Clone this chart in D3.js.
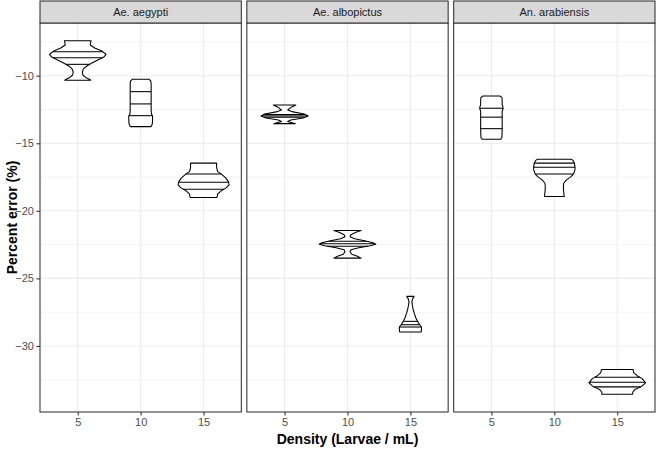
<!DOCTYPE html>
<html>
<head>
<meta charset="utf-8">
<script src="https://cdn.jsdelivr.net/npm/d3@7"></script>
<style>
  body { margin: 0; background: #fff; }
  svg { display: block; font-family: "Liberation Sans", Arial, sans-serif; }
</style>
</head>
<body>
<div id="chart"></div>
<script>
const WIDTH = 657;
const HEIGHT = 449;
const PANEL_LEFT = 40;
const PANEL_RIGHT = 655;
const PANEL_GAP = 5.5;
const STRIP_TOP = 1;
const PANEL_TOP = 23;
const PANEL_BOTTOM = 412;

const SPECIES = ["Ae. aegypti", "Ae. albopictus", "An. arabiensis"];
const DENSITIES = ["5", "10", "15"];
const Y_TICKS = [-10, -15, -20, -25, -30];
const Y_MINOR = [-7.5, -12.5, -17.5, -22.5, -27.5, -32.5];

// violin outlines: [percent error, relative width 0..1]
const aegypti5 = [[-7.41, 0.47], [-7.73, 0.44], [-7.95, 0.60], [-8.17, 0.85], [-8.43, 1.0], [-8.62, 0.92], [-8.84, 0.71], [-9.06, 0.50], [-9.28, 0.32], [-9.50, 0.20], [-9.73, 0.16], [-9.95, 0.18], [-10.13, 0.28], [-10.28, 0.43], [-10.34, 0.46]];
const aegypti10 = [[-10.27, 0.30], [-10.40, 0.36], [-10.62, 0.37], [-11.06, 0.37], [-11.80, 0.37], [-12.54, 0.37], [-12.84, 0.38], [-12.98, 0.42], [-13.28, 0.42], [-13.58, 0.41], [-13.72, 0.38], [-13.77, 0.36]];
const aegypti15 = [[-16.47, 0.46], [-16.82, 0.46], [-17.10, 0.50], [-17.27, 0.62], [-17.56, 0.78], [-17.86, 0.88], [-18.08, 0.90], [-18.30, 0.80], [-18.52, 0.62], [-18.74, 0.50], [-19.02, 0.47]];
const albopictus5 = [[-12.17, 0.40], [-12.31, 0.25], [-12.54, 0.11], [-12.68, 0.30], [-12.83, 0.70], [-12.98, 0.83], [-13.13, 0.65], [-13.28, 0.22], [-13.39, 0.11], [-13.50, 0.30], [-13.55, 0.38]];
const albopictus10 = [[-21.46, 0.48], [-21.59, 0.30], [-21.77, 0.12], [-21.92, 0.09], [-22.07, 0.25], [-22.22, 0.60], [-22.37, 0.90], [-22.48, 1.0], [-22.59, 0.80], [-22.74, 0.40], [-22.88, 0.12], [-23.03, 0.09], [-23.21, 0.15], [-23.36, 0.35], [-23.50, 0.48]];
const albopictus15 = [[-26.33, 0.13], [-26.50, 0.08], [-26.73, 0.05], [-27.02, 0.07], [-27.32, 0.10], [-27.61, 0.14], [-27.91, 0.19], [-28.18, 0.25], [-28.43, 0.33], [-28.60, 0.39], [-28.80, 0.39], [-28.97, 0.38]];
const arabiensis5 = [[-11.50, 0.30], [-11.61, 0.37], [-11.80, 0.38], [-12.17, 0.38], [-12.31, 0.41], [-12.46, 0.41], [-12.61, 0.38], [-13.27, 0.38], [-14.01, 0.38], [-14.57, 0.37], [-14.70, 0.33]];
const arabiensis10 = [[-16.18, 0.59], [-16.27, 0.66], [-16.47, 0.71], [-16.77, 0.73], [-16.97, 0.73], [-17.27, 0.68], [-17.49, 0.58], [-17.71, 0.43], [-17.96, 0.33], [-18.23, 0.32], [-18.60, 0.33], [-18.94, 0.35]];
const arabiensis15 = [[-31.75, 0.56], [-31.97, 0.58], [-32.20, 0.70], [-32.42, 0.88], [-32.73, 1.0], [-33.01, 0.85], [-33.23, 0.62], [-33.41, 0.55], [-33.58, 0.54]];

// quartile lines (25%, 50%, 75%)
const aegypti5Q = [-8.23, -8.67, -9.16];
const aegypti10Q = [-11.18, -12.09, -12.96];
const aegypti15Q = [-17.27, -17.88, -18.40];
const albopictus5Q = [-12.88, -12.98, -13.08];
const albopictus10Q = [-22.25, -22.44, -22.62];
const albopictus15Q = [-28.18, -28.43, -28.60];
const arabiensis5Q = [-12.41, -13.07, -13.92];
const arabiensis10Q = [-16.47, -16.77, -17.27];
const arabiensis15Q = [-32.32, -32.69, -33.03];

var violins = [
  { species: SPECIES[0], density: "5", profile: aegypti5, quantiles: aegypti5Q },
  { species: SPECIES[0], density: "10", profile: aegypti10, quantiles: aegypti10Q },
  { species: SPECIES[0], density: "15", profile: aegypti15, quantiles: aegypti15Q },
  { species: SPECIES[1], density: "5", profile: albopictus5, quantiles: albopictus5Q },
  { species: SPECIES[1], density: "10", profile: albopictus10, quantiles: albopictus10Q },
  { species: SPECIES[1], density: "15", profile: albopictus15, quantiles: albopictus15Q },
  { species: SPECIES[2], density: "5", profile: arabiensis5, quantiles: arabiensis5Q },
  { species: SPECIES[2], density: "10", profile: arabiensis10, quantiles: arabiensis10Q },
  { species: SPECIES[2], density: "15", profile: arabiensis15, quantiles: arabiensis15Q }
];

var svg = d3.select("#chart")
  .append("svg")
  .attr("width", WIDTH)
  .attr("height", HEIGHT);

svg.append("rect")
  .attr("width", WIDTH)
  .attr("height", HEIGHT)
  .attr("fill", "#fff");

// y scale with ggplot style 5% expansion
var allY = violins.flatMap(v => v.profile.map(p => p[0]));
var yMin = d3.min(allY);
var yMax = d3.max(allY);
var yPad = (yMax - yMin) * 0.05;
var yScale = d3.scaleLinear()
  .domain([yMin - yPad, yMax + yPad])
  .range([PANEL_BOTTOM, PANEL_TOP]);

var panelWidth = (PANEL_RIGHT - PANEL_LEFT - PANEL_GAP * (SPECIES.length - 1)) / SPECIES.length;
var panelScale = d3.scaleBand()
  .domain(SPECIES)
  .range([PANEL_LEFT, PANEL_RIGHT])
  .paddingInner(PANEL_GAP / (panelWidth + PANEL_GAP));

var xScale = d3.scalePoint()
  .domain(DENSITIES)
  .range([0, panelScale.bandwidth()])
  .padding(0.6);

var halfMax = xScale.step() * 0.45;

SPECIES.forEach(function(sp) {
  var px = panelScale(sp);
  var g = svg.append("g").attr("transform", `translate(${px},0)`);
  var w = panelScale.bandwidth();

  g.selectAll("line.minor")
    .data(Y_MINOR.filter(d => d > yScale.domain()[0] && d < yScale.domain()[1]))
    .enter().append("line")
    .attr("x1", 0).attr("x2", w)
    .attr("y1", d => yScale(d)).attr("y2", d => yScale(d))
    .attr("stroke", "#EBEBEB").attr("stroke-width", 0.6);

  g.selectAll("line.majorY")
    .data(Y_TICKS)
    .enter().append("line")
    .attr("x1", 0).attr("x2", w)
    .attr("y1", d => yScale(d)).attr("y2", d => yScale(d))
    .attr("stroke", "#EBEBEB").attr("stroke-width", 1.07);

  g.selectAll("line.majorX")
    .data(DENSITIES)
    .enter().append("line")
    .attr("x1", d => xScale(d)).attr("x2", d => xScale(d))
    .attr("y1", PANEL_TOP).attr("y2", PANEL_BOTTOM)
    .attr("stroke", "#EBEBEB").attr("stroke-width", 1.07);

  var area = d3.area()
    .y(p => yScale(p[0]));

  violins.filter(v => v.species == sp).forEach(function(v) {
    var cx = xScale(v.density);
    area.x0(p => cx - p[1] * halfMax).x1(p => cx + p[1] * halfMax);
    g.append("path")
      .datum(v.profile)
      .attr("d", area)
      .attr("fill", "#fff")
      .attr("stroke", "#000")
      .attr("stroke-width", 1.07)
      .attr("stroke-linejoin", "round");

    var widthAt = d3.scaleLinear()
      .domain(v.profile.map(p => p[0]))
      .range(v.profile.map(p => p[1]));
    g.selectAll(null)
      .data(v.quantiles)
      .enter().append("line")
      .attr("x1", q => cx - widthAt(q) * halfMax)
      .attr("x2", q => cx + widthAt(q) * halfMax)
      .attr("y1", q => yScale(q)).attr("y2", q => yScale(q))
      .attr("stroke", "#000").attr("stroke-width", 1.07);
  });

  // panel border
  g.append("rect")
    .attr("x", 0).attr("y", PANEL_TOP)
    .attr("width", w).attr("height", PANEL_BOTTOM - PANEL_TOP)
    .attr("fill", "none").attr("stroke", "#333333").attr("stroke-width", 1.07);

  // strip
  g.append("rect")
    .attr("x", 0).attr("y", STRIP_TOP)
    .attr("width", w).attr("height", PANEL_TOP - STRIP_TOP)
    .attr("fill", "#D9D9D9").attr("stroke", "#333333").attr("stroke-width", 1.07);
  g.append("text")
    .attr("x", w / 2).attr("y", (STRIP_TOP + PANEL_TOP) / 2)
    .attr("dy", "0.35em")
    .attr("text-anchor", "middle")
    .attr("font-size", 11)
    .attr("fill", "#1A1A1A")
    .text(sp);

  // x axis
  var xAxis = g.append("g")
    .attr("transform", `translate(0,${PANEL_BOTTOM})`)
    .call(d3.axisBottom(xScale).tickSize(3.6).tickPadding(2.5));
  xAxis.select(".domain").remove();
  xAxis.selectAll(".tick line").attr("stroke", "#333333").attr("stroke-width", 1.07);
  xAxis.selectAll(".tick text")
    .attr("fill", "#4D4D4D")
    .attr("font-size", 11)
    .attr("font-family", "Liberation Sans, Arial, sans-serif");
});

// y axis
var yAxis = svg.append("g")
  .attr("transform", `translate(${PANEL_LEFT},0)`)
  .call(d3.axisLeft(yScale).tickValues(Y_TICKS).tickSize(3.6).tickPadding(2.5));
yAxis.select(".domain").remove();
yAxis.selectAll(".tick line").attr("stroke", "#333333").attr("stroke-width", 1.07);
yAxis.selectAll(".tick text")
  .attr("fill", "#4D4D4D")
  .attr("font-size", 11)
  .attr("font-family", "Liberation Sans, Arial, sans-serif");

// axis titles
svg.append("text")
  .attr("x", (PANEL_LEFT + PANEL_RIGHT) / 2)
  .attr("y", 444)
  .attr("text-anchor", "middle")
  .attr("font-size", 14)
  .attr("font-weight", "bold")
  .attr("fill", "#000")
  .text("Density (Larvae / mL)");

svg.append("text")
  .attr("transform", `translate(12,${(PANEL_TOP + PANEL_BOTTOM) / 2}) rotate(-90)`)
  .attr("text-anchor", "middle")
  .attr("dy", "0.35em")
  .attr("font-size", 14)
  .attr("font-weight", "bold")
  .attr("fill", "#000")
  .text("Percent error (%)");
</script>
</body>
</html>
